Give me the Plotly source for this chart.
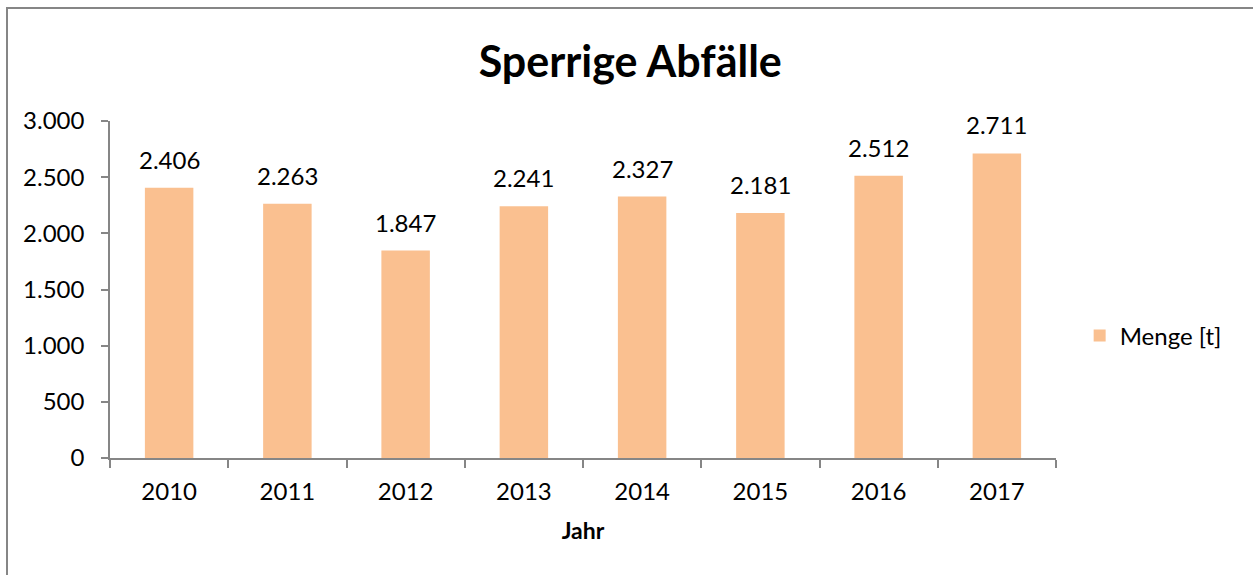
import plotly.graph_objects as go

years = ["2010", "2011", "2012", "2013", "2014", "2015", "2016", "2017"]
menge = [2406, 2263, 1847, 2241, 2327, 2181, 2512, 2711]
series_name = "Menge [t]"
title_text = "Sperrige Abfälle"
x_title = "Jahr"

FONT = "Lato, Open Sans, sans-serif"
AXIS_COLOR = "#868686"
FS = 24

fig = go.Figure()
fig.add_trace(go.Bar(
    x=years, y=menge, name=series_name,
    marker=dict(color="#FAC090", line=dict(width=0)),
))

for i, v in enumerate(menge):
    fig.add_annotation(
        x=i, y=v, text=f"{v:,}".replace(",", "."),
        showarrow=False, yanchor="bottom", yshift=12,
        font=dict(family=FONT, size=FS, color="#000000"),
    )

fig.update_layout(
    width=1253, height=575,
    margin=dict(l=110, r=197, t=121, b=117),
    paper_bgcolor="white", plot_bgcolor="white",
    separators=",.",
    bargap=0.59,
    title=dict(text=title_text, x=0.503, xanchor="center", y=0.892, yanchor="middle",
               font=dict(family=FONT, size=43, color="#000000", weight="bold")),
    font=dict(family=FONT, size=FS, color="#000000"),
    showlegend=True,
    legend=dict(x=1.025, y=0.362, xanchor="left", yanchor="middle",
                font=dict(family=FONT, size=FS, color="#000000"),
                itemwidth=30, bgcolor="rgba(0,0,0,0)"),
    xaxis=dict(
        type="category", categoryorder="array", categoryarray=years,
        range=[-0.5, len(years) - 0.5], autorange=False,
        showgrid=False, showline=True, linecolor=AXIS_COLOR, linewidth=1.5,
        ticks="outside", tickson="boundaries", ticklen=8, tickcolor=AXIS_COLOR, tickwidth=1.5,
        tickfont=dict(family=FONT, size=FS), tickangle=0, ticklabelstandoff=11,
        title=dict(text=x_title, font=dict(family=FONT, size=23, weight="bold"), standoff=19),
    ),
    yaxis=dict(
        range=[0, 3000], autorange=False, dtick=500, tickformat=",d", showgrid=False, zeroline=False,
        showline=True, linecolor=AXIS_COLOR, linewidth=1.5,
        ticks="outside", ticklen=7, tickcolor=AXIS_COLOR, tickwidth=1.5,
        tickfont=dict(family=FONT, size=FS), ticklabelstandoff=12,
    ),
    shapes=[dict(type="rect", xref="paper", yref="paper",
                 x0=(7 - 110) / 946, x1=1.4, y0=-0.6, y1=(458 - 8) / 337,
                 line=dict(color=AXIS_COLOR, width=2), fillcolor="rgba(0,0,0,0)", layer="below")],
)

fig.write_html("out.html", config={"displayModeBar": False},
               post_script="document.body.style.margin='0';")
